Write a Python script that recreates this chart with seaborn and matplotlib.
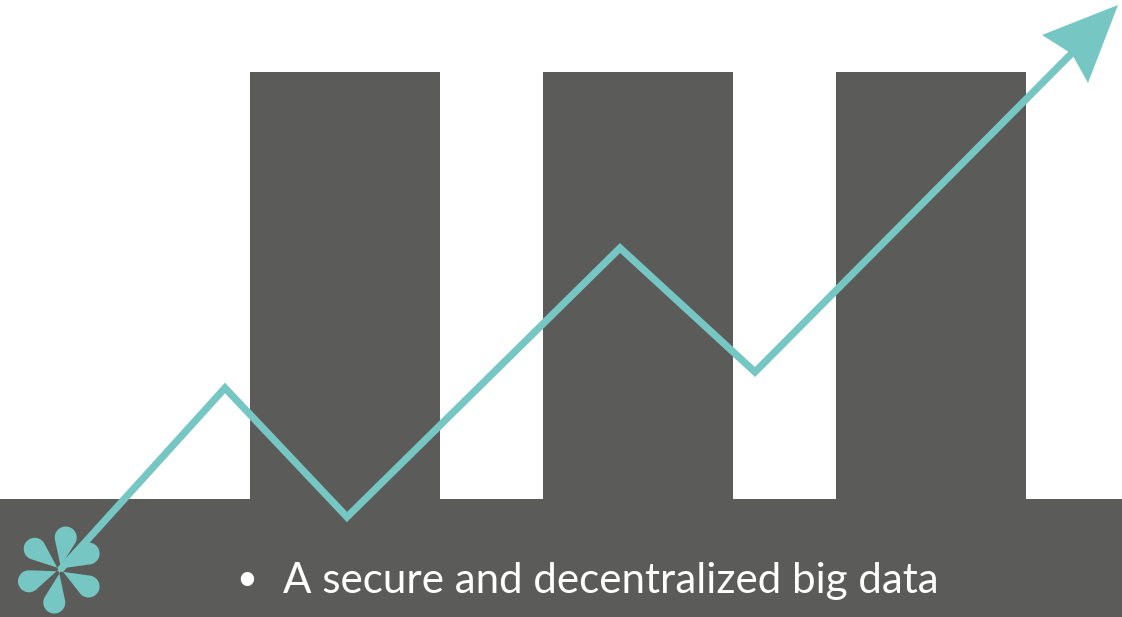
import numpy as np
import matplotlib.pyplot as plt
import seaborn as sns

GRAY = '#5b5c59'
TEAL = '#76c6c3'

# picture units: 1 unit = 1 px, y measured upward from the bottom edge
bar_x = [345, 638, 931]
bar_h = [545, 545, 545]
band_top = 118

line_x = [60, 225, 347, 620, 755, 1075]
line_y = [47, 229, 100, 369, 245, 567]

head_x = [1118, 1042, 1072, 1088]
head_y = [612, 582, 563, 534]

petal_angles = [80, 30, -30, -100, -160, 140]
petal_len = 44
petal_r = 11
star_center = (60, 47)

caption = 'A secure and decentralized big data'

sns.set_theme(style='white')
plt.rcParams['font.family'] = ['Lato', 'DejaVu Sans']

fig = plt.figure(figsize=(11.22, 6.17), dpi=100)
ax = fig.add_axes([0, 0, 1, 1])

ax.fill_between([0, 1122], 0, band_top, color=GRAY, lw=0)
sns.barplot(x=bar_x, y=bar_h, native_scale=True, width=190 / 293,
            color=GRAY, saturation=1, ax=ax, linewidth=0)

sns.lineplot(x=line_x, y=line_y, sort=False, color=TEAL, lw=5.2,
             ax=ax, solid_capstyle='butt', solid_joinstyle='miter')
ax.fill(head_x, head_y, color=TEAL, lw=0)

# asterisk petals (teardrops)
cx, cy = star_center
d = petal_len - petal_r
a0 = np.arccos(-petal_r / d)
for ang in petal_angles:
    th = np.deg2rad(ang)
    a = np.linspace(-a0, a0, 40)
    px = cx + d * np.cos(th) + petal_r * np.cos(th + a)
    py = cy + d * np.sin(th) + petal_r * np.sin(th + a)
    nx, ny = -np.sin(th) * 1.5, np.cos(th) * 1.5
    px = np.concatenate([[cx + nx], px, [cx - nx]])
    py = np.concatenate([[cy + ny], py, [cy - ny]])
    ax.fill(px[::-1], py[::-1], color=TEAL, lw=0)

ax.text(247, 37, '\u2022', color='white', fontsize=26, ha='center', va='center')
ax.text(283, 24, caption, color='white', fontsize=30.3, fontweight='normal',
        ha='left', va='baseline')

ax.set_xlim(0, 1122)
ax.set_ylim(0, 617)
ax.axis('off')
fig.savefig('out.png', dpi=100, facecolor='white')
